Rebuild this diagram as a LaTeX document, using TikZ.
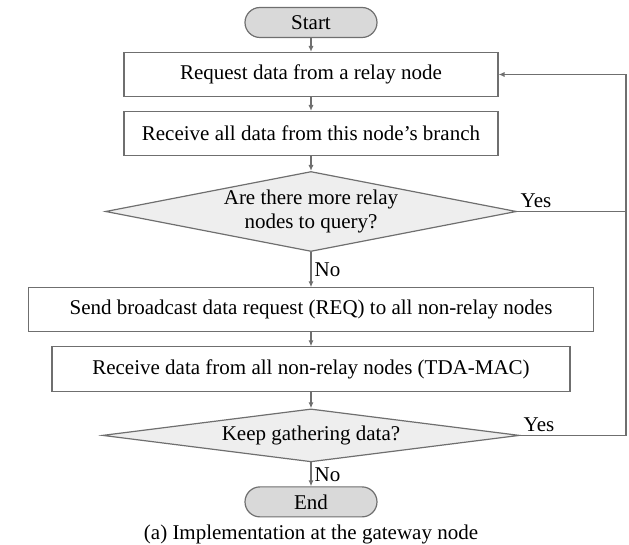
\documentclass[tikz,border=0pt]{standalone}
\usepackage{fontspec}
\setmainfont{Liberation Serif}
\usepackage{tikz}
\definecolor{fcline}{HTML}{6F6F6F}
\definecolor{fcterm}{HTML}{D9D9D9}
\definecolor{fcdec}{HTML}{EEEEEE}
\usetikzlibrary{arrows.meta,positioning,shapes.geometric}

\begin{document}
\begin{tikzpicture}[
  font=\fontsize{10.5}{12}\selectfont,
  term/.style={draw=fcline,semithick,fill=fcterm,rounded corners=7.5pt,
    minimum width=66pt,minimum height=15pt,inner sep=0pt},
  proc/.style={draw=fcline,semithick,fill=white,minimum height=22pt,inner sep=0pt},
  dec/.style={draw=fcline,semithick,fill=fcdec,diamond,align=center,inner sep=0pt},
  lab/.style={inner sep=1.5pt,text=black},
  arr/.style={-{Latex[length=3pt,width=2.6pt]},semithick,fcline},
  node distance=6.9pt]
  \useasboundingbox (0,0) rectangle (314.5pt,-272.5pt);
  \coordinate (loop) at (313pt,0);
  \node[term] (start) at (155.5pt,-11.25pt) {Start};
  \node[proc,minimum width=187pt,below=of start] (request) {Request data from a relay node};
  \node[proc,minimum width=187pt,below=of request] (branch) {Receive all data from this node's branch};
  \node[dec,minimum width=205.5pt,minimum height=40pt,aspect=5,below=7.4pt of branch] (query)
    {Are there more relay\\nodes to query?};
  \node[proc,minimum width=282.5pt,below=17.6pt of query] (bcast)
    {Send broadcast data request (REQ) to all non-relay nodes};
  \node[proc,minimum width=259pt,minimum height=22.5pt,below=of bcast] (tdamac)
    {Receive data from all non-relay nodes (TDA-MAC)};
  \node[dec,minimum width=208.5pt,minimum height=26.5pt,aspect=8,below=7.9pt of tdamac] (keep)
    {Keep gathering data?};
  \node[term,below=11.9pt of keep] (end) {End};
  \node[anchor=base] (caption) at (155.5pt,-270pt) {(a) Implementation at the gateway node};
  \draw[arr] (start) -- (request);
  \draw[arr] (request) -- (branch);
  \draw[arr] (branch) -- (query);
  \draw[arr] (query) -- node[lab,right] {No} (bcast);
  \draw[arr] (bcast) -- (tdamac);
  \draw[arr] (tdamac) -- (keep);
  \draw[arr] (keep) -- node[lab,right] {No} (end);
  \draw[arr] (query.east) -- node[lab,pos=0,anchor=south west] {Yes} (query.east -| loop)
    |- (request.east);
  \draw[semithick,fcline] (keep.east) -- node[lab,pos=0,anchor=south west] {Yes} (keep.east -| loop)
    -- (query.east -| loop);
\end{tikzpicture}
\end{document}
